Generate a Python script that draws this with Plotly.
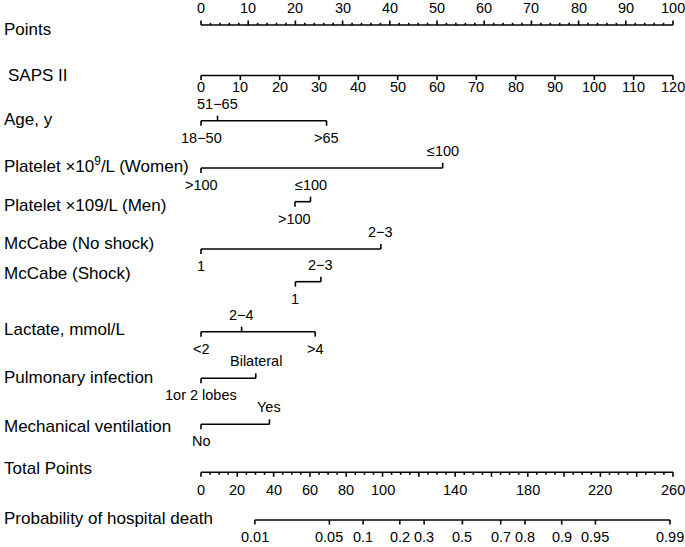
import numpy as np
import plotly.graph_objects as go

# ---------------- data ----------------
points_ticks = list(range(0, 101, 10))
points_minor = list(range(0, 101, 2))

saps_ticks = list(range(0, 121, 10))
saps_max = 120  # SAPS II value that gives 100 points

age_levels = ["18−50", "51−65", ">65"]
age_points = [0, 3.5, 26.6]

plt_w_levels = [">100", "≤100"]
plt_w_points = [0, 51.2]

plt_m_levels = [">100", "≤100"]
plt_m_points = [19.9, 23.2]

mccabe_ns_levels = ["1", "2−3"]
mccabe_ns_points = [0, 38.1]

mccabe_s_levels = ["1", "2−3"]
mccabe_s_points = [20.0, 25.4]

lactate_levels = ["<2", "2−4", ">4"]
lactate_points = [0, 8.6, 24.2]

pulm_levels = ["1or 2 lobes", "Bilateral"]
pulm_points = [0, 11.6]

mv_levels = ["No", "Yes"]
mv_points = [0, 14.5]

total_labels = [0, 20, 40, 60, 80, 100, 140, 180, 220, 260]
total_major = list(range(0, 261, 20))
total_minor = list(range(0, 261, 5))
total_max = 260

prob_ticks = [0.01, 0.05, 0.1, 0.2, 0.3, 0.5, 0.7, 0.8, 0.9, 0.95, 0.99]
lp_intercept = -5.786
lp_slope = 0.04018

# ---------------- layout constants ----------------
W, H = 685, 547
X0PIX, PPU = 201, 4.72  # pixel of 0 points, pixels per point
FONT = "Liberation Sans, Arial, sans-serif"
NAME_SIZE = 17
TICK_SIZE = 14.5
LW = 1.6

fig = go.Figure()
annots = []


def seg_trace(xs, ys, width=LW):
    fig.add_trace(go.Scatter(x=xs, y=ys, mode="lines",
                             line=dict(color="black", width=width),
                             hoverinfo="skip", showlegend=False))


def label(x, y, text, size=TICK_SIZE):
    annots.append(dict(x=x, y=y, xref="x", yref="y", text=text, showarrow=False,
                       font=dict(family=FONT, size=size, color="black"),
                       xanchor="center", yanchor="middle"))


def name(y, text, shift=2):
    annots.append(dict(x=0, y=y, xref="paper", yref="y", text=text, showarrow=False,
                       font=dict(family=FONT, size=NAME_SIZE, color="black"),
                       xanchor="left", yanchor="middle", xshift=shift))


# Points axis (ticks up, labels above)
y = 25
xs, ys = [0, 100, None], [y, y, None]
for v in points_minor:
    L = 4.5 if v % 10 == 0 else 2.2
    xs += [v, v, None]; ys += [y, y - L, None]
seg_trace(xs, ys)
for v in points_ticks:
    label(v, y - 17, str(v))
name(29, "Points")

# SAPS II axis (ticks down, labels below)
y = 75.5
xs, ys = [0, 100, None], [y, y, None]
for v in saps_ticks:
    p = v * 100 / saps_max
    xs += [p, p, None]; ys += [y, y + 4.5, None]
seg_trace(xs, ys)
for v in saps_ticks:
    label(v * 100 / saps_max, y + 11, str(v))
name(75, "SAPS II", shift=6)


def cat_axis(yline, levels, pts, sides, yname, nm, off=17):
    xs = [min(pts), max(pts), None]
    ys = [yline, yline, None]
    for p, s in zip(pts, sides):
        d = -5 if s == "up" else 5
        xs += [p, p, None]; ys += [yline, yline + d, None]
    seg_trace(xs, ys)
    for lev, p, s in zip(levels, pts, sides):
        label(p, yline - off if s == "up" else yline + off, lev)
    name(yname, nm)


cat_axis(120.7, age_levels, age_points, ["down", "up", "down"], 119, "Age, y")
cat_axis(168, plt_w_levels, plt_w_points, ["down", "up"], 165,
         "Platelet ×10<sup>9</sup>/L (Women)")
cat_axis(201.7, plt_m_levels, plt_m_points, ["down", "up"], 205, "Platelet ×109/L (Men)")
cat_axis(249, mccabe_ns_levels, mccabe_ns_points, ["down", "up"], 243, "McCabe (No shock)")
cat_axis(281.7, mccabe_s_levels, mccabe_s_points, ["down", "up"], 273, "McCabe (Shock)")
cat_axis(331.7, lactate_levels, lactate_points, ["down", "up", "down"], 329, "Lactate, mmol/L")
cat_axis(378.3, pulm_levels, pulm_points, ["down", "up"], 377, "Pulmonary infection")
cat_axis(424.3, mv_levels, mv_points, ["down", "up"], 426, "Mechanical ventilation")

# Total points axis
y = 472.3
sc = 100 / total_max
xs, ys = [0, 100, None], [y, y, None]
for v in total_minor:
    L = 4.5 if v in total_major else 2.5
    xs += [v * sc, v * sc, None]; ys += [y, y + L, None]
seg_trace(xs, ys)
for v in total_labels:
    label(v * sc, y + 17.5, str(v))
name(468, "Total Points")

# Probability axis
y = 520
prob_tp = [(np.log(p / (1 - p)) - lp_intercept) / lp_slope for p in prob_ticks]
xs, ys = [prob_tp[0] * sc, prob_tp[-1] * sc, None], [y, y, None]
for t in prob_tp:
    xs += [t * sc, t * sc, None]; ys += [y, y + 4.5, None]
seg_trace(xs, ys)
for p, t in zip(prob_ticks, prob_tp):
    label(t * sc, y + 17, f"{p:g}")
name(518, "Probability of hospital death")

fig.update_layout(
    width=W, height=H,
    margin=dict(l=0, r=0, t=0, b=0),
    paper_bgcolor="white", plot_bgcolor="white",
    xaxis=dict(range=[-X0PIX / PPU, (W - X0PIX) / PPU], visible=False, fixedrange=True),
    yaxis=dict(range=[H, 0], visible=False, fixedrange=True),
    annotations=annots,
    showlegend=False,
)

fig.write_html("out.html", config={"displayModeBar": False},
               post_script="document.body.style.margin='0';document.body.style.overflow='hidden';")
